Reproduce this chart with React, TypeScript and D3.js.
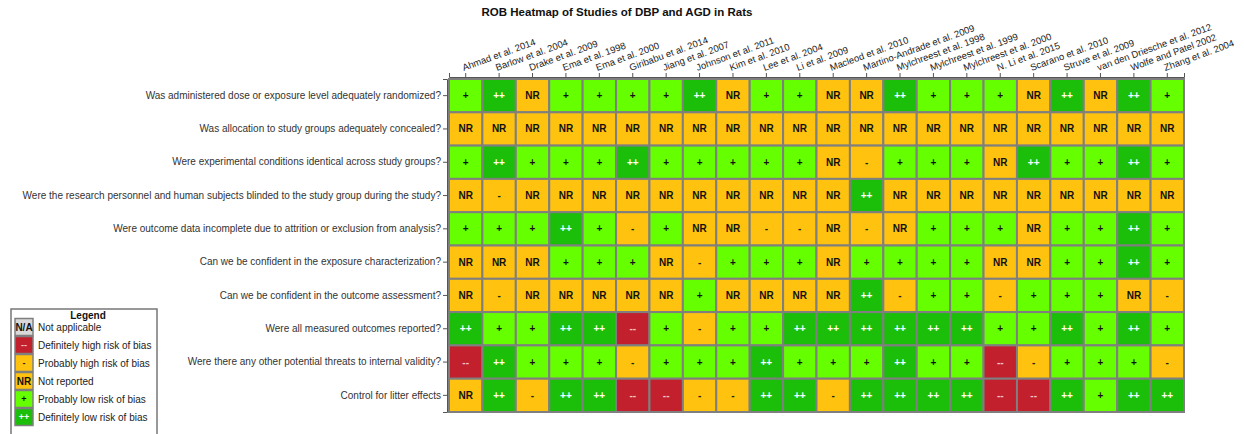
import React, { useEffect, useRef } from "react";
import * as d3 from "d3";

const studies = [
  "Ahmad et al. 2014", "Barlow et al. 2004", "Drake et al. 2009", "Ema et al. 1998",
  "Ema et al. 2000", "Giribabu et al. 2014", "Jiang et al. 2007", "Johnson et al. 2011",
  "Kim et al. 2010", "Lee et al. 2004", "Li et al. 2009", "Macleod et al. 2010",
  "Martino-Andrade et al. 2009", "Mylchreest et al. 1998", "Mylchreest et al. 1999",
  "Mylchreest et al. 2000", "N. Li et al. 2015", "Scarano et al. 2010", "Struve et al. 2009",
  "van den Driesche et al. 2012", "Wolfe and Patel 2002", "Zhang et al. 2004",
];

const questions = [
  "Was administered dose or exposure level adequately randomized?",
  "Was allocation to study groups adequately concealed?",
  "Were experimental conditions identical across study groups?",
  "Were the research personnel and human subjects blinded to the study group during the study?",
  "Were outcome data incomplete due to attrition or exclusion from analysis?",
  "Can we be confident in the exposure characterization?",
  "Can we be confident in the outcome assessment?",
  "Were all measured outcomes reported?",
  "Were there any other potential threats to internal validity?",
  "Control for litter effects",
];

// one row per question, one entry per study
const ratings = [
  ["+", "++", "NR", "+", "+", "+", "+", "++", "NR", "+", "+", "NR", "NR", "++", "+", "+", "+", "NR", "++", "NR", "++", "+"],
  ["NR", "NR", "NR", "NR", "NR", "NR", "NR", "NR", "NR", "NR", "NR", "NR", "NR", "NR", "NR", "NR", "NR", "NR", "NR", "NR", "NR", "NR"],
  ["+", "++", "+", "+", "+", "++", "+", "+", "+", "+", "+", "NR", "-", "+", "+", "+", "NR", "++", "+", "+", "++", "+"],
  ["NR", "-", "NR", "NR", "NR", "NR", "NR", "NR", "NR", "NR", "NR", "NR", "++", "NR", "NR", "NR", "NR", "NR", "NR", "NR", "NR", "NR"],
  ["+", "+", "+", "++", "+", "-", "+", "NR", "NR", "-", "-", "NR", "-", "NR", "+", "+", "+", "NR", "+", "+", "++", "+"],
  ["NR", "NR", "NR", "+", "+", "+", "NR", "-", "+", "+", "+", "NR", "+", "+", "+", "+", "NR", "NR", "+", "+", "++", "+"],
  ["NR", "-", "NR", "NR", "NR", "NR", "NR", "+", "NR", "NR", "NR", "NR", "++", "-", "+", "+", "-", "+", "+", "+", "NR", "-"],
  ["++", "+", "+", "++", "++", "--", "+", "-", "+", "+", "++", "++", "++", "++", "++", "++", "+", "+", "++", "+", "++", "+"],
  ["--", "++", "+", "+", "+", "-", "+", "+", "+", "++", "+", "+", "+", "++", "+", "+", "--", "-", "+", "+", "+", "-"],
  ["NR", "++", "-", "++", "++", "--", "--", "-", "-", "++", "++", "-", "++", "++", "++", "++", "--", "--", "++", "+", "++", "++"],
];

const legendCodes = ["N/A", "--", "-", "NR", "+", "++"];
const legendLabels = [
  "Not applicable",
  "Definitely high risk of bias",
  "Probably high risk of bias",
  "Not reported",
  "Probably low risk of bias",
  "Definitely low risk of bias",
];

const fillColor: Record<string, string> = {
  "N/A": "#d9d9d9",
  "--": "#c1202c",
  "-": "#ffc20e",
  NR: "#ffc20e",
  "+": "#66ff00",
  "++": "#1bbf0a",
};
const textColor: Record<string, string> = {
  "N/A": "#111",
  "--": "#f3c2c2",
  "-": "#222",
  NR: "#111",
  "+": "#111",
  "++": "#ffffff",
};

const FONT = "'Liberation Sans', Arial, sans-serif";

const App = () => {
  const ref = useRef<SVGSVGElement>(null);

  useEffect(() => {
    const svg = d3.select(ref.current);
    svg.selectAll("*").remove();

    const x = d3.scaleBand().domain(studies).range([449, 1184]).padding(0);
    const y = d3.scaleBand().domain(questions).range([79, 412]).padding(0);

    // title
    svg.append("text")
      .attr("x", 617).attr("y", 16)
      .attr("text-anchor", "middle")
      .attr("font-family", FONT).attr("font-size", 11.5).attr("font-weight", "bold")
      .attr("fill", "#111")
      .text("ROB Heatmap of Studies of DBP and AGD in Rats");

    // cells
    const cells: { q: string; s: string; v: string }[] = [];
    questions.forEach((q, i) => studies.forEach((s, j) => cells.push({ q, s, v: ratings[i][j] })));

    const g = svg.append("g");
    g.selectAll("rect")
      .data(cells)
      .enter()
      .append("rect")
      .attr("x", d => x(d.s)!)
      .attr("y", d => y(d.q)!)
      .attr("width", x.bandwidth())
      .attr("height", y.bandwidth())
      .attr("fill", d => fillColor[d.v])
      .attr("stroke", "#7f7f7f")
      .attr("stroke-width", 2);

    g.selectAll("text")
      .data(cells)
      .enter()
      .append("text")
      .attr("x", d => x(d.s)! + x.bandwidth() / 2)
      .attr("y", d => y(d.q)! + y.bandwidth() / 2)
      .attr("dy", "0.35em")
      .attr("text-anchor", "middle")
      .attr("font-family", FONT)
      .attr("font-size", 10)
      .attr("font-weight", "bold")
      .attr("fill", d => textColor[d.v])
      .text(d => d.v);

    // top axis with rotated study names
    const top = svg.append("g")
      .attr("transform", "translate(0,77)")
      .call(d3.axisTop(x).tickSize(4).tickSizeOuter(4));
    top.select(".domain").attr("stroke", "#555");
    top.selectAll(".tick line").attr("stroke", "#555");
    top.selectAll(".tick text")
      .attr("font-family", FONT).attr("font-size", 9.5).attr("fill", "#222")
      .attr("text-anchor", "start")
      .attr("x", 0).attr("y", 0).attr("dy", 0)
      .attr("transform", "translate(-2,-6) rotate(-20)");

    // left axis with question labels
    const left = svg.append("g")
      .attr("transform", "translate(447,0)")
      .call(d3.axisLeft(y).tickSize(4).tickSizeOuter(4));
    left.select(".domain").attr("stroke", "#555");
    left.selectAll(".tick line").attr("stroke", "#555");
    left.selectAll(".tick text")
      .attr("font-family", FONT).attr("font-size", 10).attr("fill", "#333")
      .attr("x", -6);

    // legend
    const lg = svg.append("g");
    lg.append("rect")
      .attr("x", 11).attr("y", 309).attr("width", 146).attr("height", 135)
      .attr("fill", "#fff").attr("stroke", "#777").attr("stroke-width", 1.5);
    lg.append("text")
      .attr("x", 88).attr("y", 319)
      .attr("text-anchor", "middle")
      .attr("font-family", FONT).attr("font-size", 10).attr("font-weight", "bold")
      .attr("fill", "#111")
      .text("Legend");

    const items = lg.selectAll("g.item")
      .data(legendCodes)
      .enter()
      .append("g")
      .attr("class", "item")
      .attr("transform", (d, i) => `translate(0,${327 + i * 18})`);
    items.append("rect")
      .attr("x", 15).attr("y", -8.5).attr("width", 18).attr("height", 17)
      .attr("fill", d => fillColor[d]).attr("stroke", "#7f7f7f").attr("stroke-width", 1.5);
    items.append("text")
      .attr("x", 24).attr("dy", "0.35em")
      .attr("text-anchor", "middle")
      .attr("font-family", FONT).attr("font-size", d => (d === "N/A" || d === "NR" ? 10 : 9))
      .attr("font-weight", "bold")
      .attr("fill", d => textColor[d])
      .text(d => d);
    items.append("text")
      .attr("x", 38).attr("dy", "0.35em")
      .attr("font-family", FONT).attr("font-size", 10)
      .attr("fill", "#222")
      .text((d, i) => legendLabels[i]);
  }, []);

  return (
    <svg
      ref={ref}
      width={1244}
      height={434}
      style={{ position: "absolute", left: 0, top: 0, background: "#fff" }}
    />
  );
};

export default App;
